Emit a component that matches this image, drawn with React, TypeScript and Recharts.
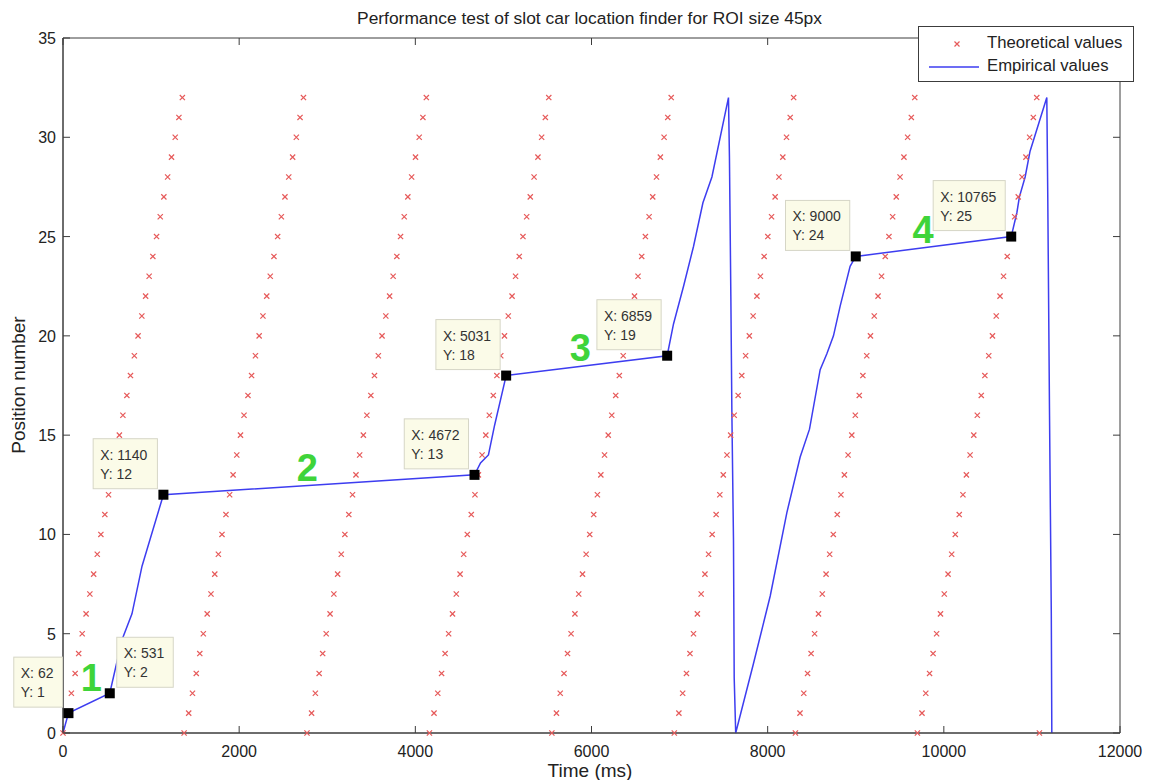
import React from 'react';
import { ComposedChart, Line, Scatter, XAxis, YAxis, Legend, ReferenceArea } from 'recharts';

// ---------- data ----------
const xTicks = [0, 2000, 4000, 6000, 8000, 10000, 12000];
const yTicks = [0, 5, 10, 15, 20, 25, 30, 35];

// theoretical sawtooth: start time of each ramp, and time offsets of each position within a ramp
const rampStarts = [0, 1375, 2770, 4160, 5550, 6940, 8315, 9700];
const rampOffsets = [0, 52, 95, 138, 178, 218, 262, 305, 348, 389, 430, 475, 517, 556, 598, 640, 680, 725, 766, 810, 852, 895, 938, 978, 1020, 1062, 1104, 1145, 1188, 1232, 1274, 1316, 1355];
const rampPositions = [0, 1, 2, 3, 4, 5, 6, 7, 8, 9, 10, 11, 12, 13, 14, 15, 16, 17, 18, 19, 20, 21, 22, 23, 24, 25, 26, 27, 28, 29, 30, 31, 32];
const tailTimes = [11085];
const tailPositions = [0];

// empirical curve
const empiricalTimes = [0, 62, 531, 670, 783, 897, 1140, 4672, 4740, 4830, 4900, 5031, 6859, 6931, 7045, 7158, 7265, 7367, 7555, 7566, 7582, 7594, 7612, 7620, 7637, 7839, 8029, 8218, 8369, 8475, 8596, 8672, 8747, 8823, 8936, 9000, 10765, 10829, 10858, 10923, 10979, 11169, 11180, 11200, 11220, 11226];
const empiricalPositions = [0, 1, 2, 4.7, 6, 8.4, 12, 13, 13.6, 14, 15.5, 18, 19, 20.6, 22.5, 24.5, 26.7, 28, 32, 29, 22, 16, 9.7, 2.8, 0, 3.5, 6.9, 11.1, 13.9, 15.3, 18.3, 19.1, 20, 21.5, 23.5, 24, 25, 26.2, 27, 28, 29.3, 32, 27, 16, 6, 0];

// data tips
const tipTimes = [62, 531, 1140, 4672, 5031, 6859, 9000, 10765];
const tipPositions = [1, 2, 12, 13, 18, 19, 24, 25];
const tipSides = ['left', 'right', 'left', 'left', 'left', 'left', 'left', 'left'];

// green segment numbers
const noteLabels = ['1', '2', '3', '4'];
const noteTimes = [321, 2773, 5872, 9765];
const notePositions = [2.82, 13.4, 19.45, 25.4];

// ---------- tables for the library ----------
const theoretical = [
  ...rampStarts.flatMap((s) => rampOffsets.map((o, i) => ({ x: s + o, y: rampPositions[i] }))),
  ...tailTimes.map((t, i) => ({ x: t, y: tailPositions[i] })),
];
const empirical = empiricalTimes.map((t, i) => ({ x: t, y: empiricalPositions[i] }));
const tips = tipTimes.map((t, i) => ({ x: t, y: tipPositions[i], side: tipSides[i] }));
const notes = noteTimes.map((t, i) => ({ x: t, y: notePositions[i], label: noteLabels[i] }));

// ---------- styles ----------
const FONT = '"Liberation Sans", Arial, Helvetica, sans-serif';
const AXIS = '#3c3c3c';
const TEXT = '#222';
const RED = '#e65a5a';
const BLUE = '#3d3df0';
const W = 1150;
const H = 780;
const M = { top: 38, right: 30, bottom: 17, left: 13 };
const PLOT_TOP = M.top;
const PLOT_RIGHT = W - M.right;
const TICK_LEN = 7;

const BottomTick = (p: any) => {
  const { x, y, payload } = p;
  const base = y - 8;
  return (
    <g>
      <line x1={x} x2={x} y1={base} y2={base - TICK_LEN} stroke={AXIS} strokeWidth={1} />
      <line x1={x} x2={x} y1={PLOT_TOP} y2={PLOT_TOP + TICK_LEN} stroke={AXIS} strokeWidth={1} />
      <text x={x} y={base + 24} textAnchor="middle" fontFamily={FONT} fontSize={16} fill={TEXT}>
        {payload.value}
      </text>
    </g>
  );
};

const LeftTick = (p: any) => {
  const { x, y, payload } = p;
  const base = x + 7;
  return (
    <g>
      <line x1={base} x2={base + TICK_LEN} y1={y} y2={y} stroke={AXIS} strokeWidth={1} />
      <line x1={PLOT_RIGHT - TICK_LEN} x2={PLOT_RIGHT} y1={y} y2={y} stroke={AXIS} strokeWidth={1} />
      <text x={x} y={y + 6} textAnchor="end" fontFamily={FONT} fontSize={16} fill={TEXT}>
        {payload.value}
      </text>
    </g>
  );
};

const XMark = (p: any) => {
  const { cx, cy } = p;
  if (cx == null || cy == null) return null;
  const s = 2.6;
  return (
    <path
      d={`M${cx - s},${cy - s}L${cx + s},${cy + s}M${cx - s},${cy + s}L${cx + s},${cy - s}`}
      stroke={RED}
      strokeWidth={1.2}
      fill="none"
    />
  );
};

const TipMark = (p: any) => {
  const { cx, cy, payload } = p;
  if (cx == null || cy == null) return null;
  const l1 = `X: ${payload.x}`;
  const l2 = `Y: ${payload.y}`;
  const chars = Math.max(l1.length, l2.length);
  const w = 14 * (0.667 + 0.278 + 0.278 + 0.556 * (chars - 3)) + 16;
  const h = 50;
  const left = payload.side === 'left' ? cx - 6 - w : cx + 7;
  const top = cy - 6 - h;
  return (
    <g>
      <rect x={left} y={top} width={w} height={h} fill="#fbfbe8" stroke="#d6d6c6" strokeWidth={1} />
      <text x={left + 7} y={top + 21} fontFamily={FONT} fontSize={14} fill="#333">{l1}</text>
      <text x={left + 7} y={top + 40} fontFamily={FONT} fontSize={14} fill="#333">{l2}</text>
      <rect x={cx - 5} y={cy - 5} width={10} height={10} fill="#000" />
    </g>
  );
};

const NoteMark = (p: any) => {
  const { cx, cy, payload } = p;
  if (cx == null || cy == null) return null;
  return (
    <text x={cx} y={cy + 14} textAnchor="middle" fontFamily={FONT} fontWeight="bold" fontSize={38} fill="#3fd43a">
      {payload.label}
    </text>
  );
};

const LegendBox = () => (
  <div
    style={{
      width: 216,
      height: 56,
      boxSizing: 'border-box',
      border: `1px solid ${AXIS}`,
      background: '#fff',
      position: 'relative',
      fontFamily: FONT,
      fontSize: 16.7,
      color: TEXT,
    }}
  >
    <svg width={70} height={56} style={{ position: 'absolute', left: 0, top: 0 }}>
      <path d="M35.5,14.5L40.5,19.5M35.5,19.5L40.5,14.5" stroke={RED} strokeWidth={1.2} fill="none" />
      <line x1={10} x2={60} y1={40} y2={40} stroke={BLUE} strokeWidth={1.5} />
    </svg>
    <div style={{ position: 'absolute', left: 68, top: 7, lineHeight: '18px', whiteSpace: 'nowrap' }}>Theoretical values</div>
    <div style={{ position: 'absolute', left: 68, top: 30, lineHeight: '18px', whiteSpace: 'nowrap' }}>Empirical values</div>
  </div>
);

export default function App() {
  return (
    <div style={{ position: 'absolute', left: 0, top: 0, width: W, height: H, background: '#fff' }}>
      <ComposedChart width={W} height={H} margin={M}>
        <XAxis
          dataKey="x"
          type="number"
          domain={[0, 12000]}
          ticks={xTicks}
          height={30}
          stroke={AXIS}
          tickSize={0}
          tickMargin={8}
          tickLine={false}
          tick={<BottomTick />}
          interval={0}
        />
        <YAxis
          type="number"
          domain={[0, 35]}
          ticks={yTicks}
          width={50}
          stroke={AXIS}
          tickSize={0}
          tickMargin={7}
          tickLine={false}
          tick={<LeftTick />}
          interval={0}
        />
        <ReferenceArea x1={0} x2={12000} y1={0} y2={35} fill="none" stroke={AXIS} strokeWidth={1} ifOverflow="extendDomain" />
        <Legend
          layout="vertical"
          align="center"
          verticalAlign="middle"
          wrapperStyle={{ top: 26, left: 918, width: 216, height: 56 }}
          content={<LegendBox />}
        />
        <Scatter
          name="Theoretical values"
          data={theoretical}
          dataKey="y"
          shape={<XMark />}
          isAnimationActive={false}
        />
        <Line
          name="Empirical values"
          data={empirical}
          dataKey="y"
          type="linear"
          stroke={BLUE}
          strokeWidth={1.5}
          dot={false}
          activeDot={false}
          isAnimationActive={false}
        />
        <Scatter data={notes} dataKey="y" shape={<NoteMark />} isAnimationActive={false} legendType="none" />
        <Scatter data={tips} dataKey="y" shape={<TipMark />} isAnimationActive={false} legendType="none" />
      </ComposedChart>
      <div
        style={{
          position: 'absolute',
          left: 0,
          width: W - 1,
          top: 8,
          textAlign: 'center',
          fontFamily: FONT,
          fontSize: 17.4,
          color: TEXT,
          paddingLeft: 30,
          boxSizing: 'border-box',
        }}
      >
        Performance test of slot car location finder for ROI size 45px
      </div>
      <div
        style={{
          position: 'absolute',
          left: 520,
          width: 140,
          top: 760,
          textAlign: 'center',
          fontFamily: FONT,
          fontSize: 19,
          color: TEXT,
        }}
      >
        Time (ms)
      </div>
      <div
        style={{
          position: 'absolute',
          left: 19,
          top: 385,
          transform: 'translate(-50%, -50%) rotate(-90deg)',
          fontFamily: FONT,
          fontSize: 19,
          color: TEXT,
          whiteSpace: 'nowrap',
        }}
      >
        Position number
      </div>
    </div>
  );
}
